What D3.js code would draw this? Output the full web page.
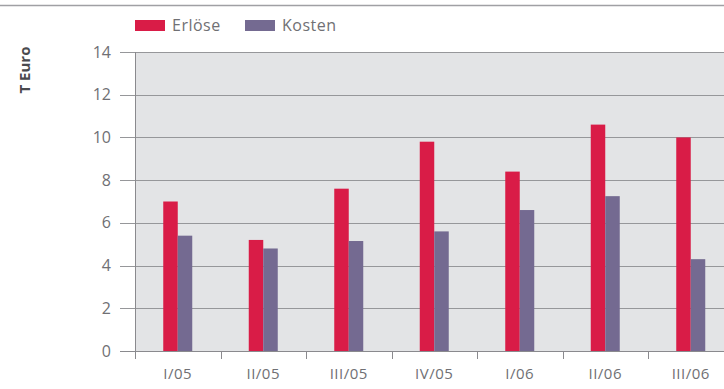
<!DOCTYPE html>
<html>
<head>
<meta charset="utf-8">
<script src="https://cdn.jsdelivr.net/npm/d3@7"></script>
<style>
  body { margin: 0; background: #fff; }
  svg text { font-family: "Open Sans", "DejaVu Sans", sans-serif; }
</style>
</head>
<body>
<svg id="chart" width="724" height="389"></svg>
<script>
// quarters and the two series (T Euro)
const quarters = ['I/05', 'II/05', 'III/05', 'IV/05', 'I/06', 'II/06', 'III/06'];
const erloese = [7.0, 5.2, 7.6, 9.8, 8.4, 10.6, 10.0];
const kosten = [5.4, 4.8, 5.15, 5.6, 6.6, 7.25, 4.3];
const seriesNames = ['Erlöse', 'Kosten'];
const yTicks = [0, 2, 4, 6, 8, 10, 12, 14];

const colors = { 'Erlöse': '#d91c47', 'Kosten': '#746a91' };

let svg = d3.select('#chart');

// plot frame
let plotLeft = 135, plotTop = 52, plotBottom = 351;
let band = 85.5;
let plotRight = plotLeft + band * quarters.length; // last band runs off the page

let x = d3.scaleBand()
    .domain(quarters)
    .range([plotLeft, plotRight]);
let xs = d3.scaleBand()
    .domain(seriesNames)
    .range([0, 29]);
let y = d3.scaleLinear()
    .domain([0, 14])
    .range([plotBottom, plotTop]);

// thin rule across the top
svg.append('line')
    .attr('x1', 0).attr('x2', 724)
    .attr('y1', 5.5).attr('y2', 5.5)
    .style('stroke', '#a0a0a4')
    .style('stroke-width', 1.5);

// grey plot background
svg.append('rect')
    .attr('x', plotLeft).attr('y', plotTop)
    .attr('width', plotRight - plotLeft).attr('height', plotBottom - plotTop)
    .style('fill', '#e3e4e6');

// horizontal grid + y ticks
let grid = svg.append('g').attr('class', 'grid');
grid.selectAll('line')
    .data(yTicks)
    .enter()
    .append('line')
        .attr('x1', 120).attr('x2', plotRight)
        .attr('y1', d => Math.round(y(d)) + 0.5)
        .attr('y2', d => Math.round(y(d)) + 0.5)
        .style('stroke', d => d === 0 ? '#8a8a8e' : '#96979a')
        .style('stroke-width', 1);

svg.append('g')
    .selectAll('text')
    .data(yTicks)
    .enter()
    .append('text')
        .attr('x', 111)
        .attr('y', d => y(d))
        .attr('dy', '0.35em')
        .attr('text-anchor', 'end')
        .style('font-size', '16px')
        .style('fill', '#707074')
        .text(d => d);

// bars
let groups = svg.append('g')
    .selectAll('g')
    .data(quarters.map((q, i) => ({ q: q, vals: [erloese[i], kosten[i]] })))
    .enter()
    .append('g')
        .attr('transform', d => 'translate(' + (x(d.q) + x.bandwidth() / 2 - 14.5) + ',0)');

groups.selectAll('rect')
    .data(d => d.vals.map((v, j) => ({ name: seriesNames[j], v: v })))
    .enter()
    .append('rect')
        .attr('x', d => xs(d.name))
        .attr('width', xs.bandwidth())
        .attr('y', d => y(d.v))
        .attr('height', d => y(0) - y(d.v))
        .style('fill', d => colors[d.name]);

// left axis line
svg.append('line')
    .attr('x1', plotLeft + 0.5).attr('x2', plotLeft + 0.5)
    .attr('y1', plotTop).attr('y2', plotBottom + 8)
    .style('stroke', '#8a8a8e');

// category separators below the baseline
svg.append('g')
    .selectAll('line')
    .data(quarters.slice(1))
    .enter()
    .append('line')
        .attr('x1', d => Math.round(x(d)) + 0.5)
        .attr('x2', d => Math.round(x(d)) + 0.5)
        .attr('y1', plotBottom).attr('y2', plotBottom + 8)
        .style('stroke', '#8a8a8e');

// category labels
svg.append('g')
    .selectAll('text')
    .data(quarters)
    .enter()
    .append('text')
        .attr('x', d => x(d) + x.bandwidth() / 2)
        .attr('y', 379)
        .attr('text-anchor', 'middle')
        .style('font-size', '15px')
        .style('letter-spacing', '0.5px')
        .style('fill', '#707074')
        .text(d => d);

// axis title
svg.append('text')
    .attr('transform', 'translate(30,70)rotate(-90)')
    .attr('text-anchor', 'middle')
    .style('font-size', '15px')
    .style('font-weight', 'bold')
    .style('fill', '#4a4a4e')
    .text('T Euro');

// legend
let legend = svg.append('g')
    .selectAll('g')
    .data(seriesNames)
    .enter()
    .append('g')
        .attr('transform', (d, i) => 'translate(' + (135 + i * 110) + ',20)');
legend.append('rect')
    .attr('width', 30).attr('height', 11)
    .style('fill', d => colors[d]);
legend.append('text')
    .attr('x', 37).attr('y', 5.5)
    .attr('dy', '0.35em')
    .style('font-size', '16px')
    .style('letter-spacing', '0.5px')
    .style('fill', '#707074')
    .text(d => d);
</script>
</body>
</html>
